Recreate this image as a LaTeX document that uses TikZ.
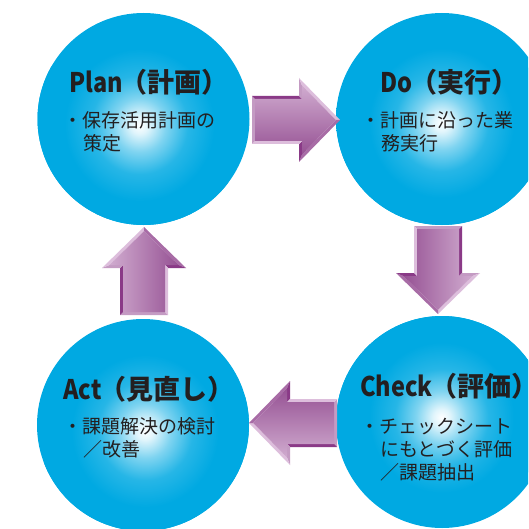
\documentclass[tikz,border=0pt]{standalone}
\usepackage{graphicx}
\usepackage{fontspec}
\setmainfont{Noto Sans CJK JP}
\definecolor{cblue}{RGB}{0,169,226}
\definecolor{tdark}{RGB}{35,31,32}
\definecolor{aflight}{RGB}{208,171,207}
\definecolor{afdark}{RGB}{150,82,148}
\definecolor{bvdark}{RGB}{138,58,135}
\definecolor{bvlight}{RGB}{221,190,220}
\definecolor{bvmidl}{RGB}{196,155,195}
\definecolor{bvmid}{RGB}{168,108,166}
\pgfdeclareradialshading{glow}{\pgfpointorigin}{color(0bp)=(white); color(2bp)=(white!88!cblue); color(6bp)=(cblue!50!white); color(11bp)=(cblue!85!white); color(17bp)=(cblue); color(50bp)=(cblue)}
\tikzset{
  phase/.style={circle, minimum size=212pt, inner sep=0pt, fill=cblue, draw=none},
  ttl/.style={anchor=base west, inner sep=0pt, text=tdark, text height=20pt, text depth=2pt, font=\fontsize{27}{30}\selectfont\bfseries},
  bodyline/.style={anchor=base west, inner sep=0pt, text=tdark, text height=15pt, text depth=2pt, font=\fontsize{19}{23}\selectfont},
}
\newcommand\lat[1]{\scalebox{0.87}[1]{#1}}
\newcommand\opar{\hspace{-2pt}（}
\newcommand\cpar{）\hspace{-16pt}}
% block arrow: #1,#2 = back centre, #3 = rotation, #4 = face shading
\newcommand\pdcaarrow[4]{%
  \begin{scope}[shift={(#1,#2)},rotate=#3]
    \fill[bvmidl] (0,-24) -- (0,24) -- (3,21) -- (3,-21) -- cycle;
    \fill[bvdark] (0,-24) -- (47,-24) -- (50,-21) -- (3,-21) -- cycle;
    \fill[bvmidl] (47,-24) -- (47,-42) -- (50,-34.6) -- (50,-21) -- cycle;
    \fill[bvlight] (47,-42) -- (88,0) -- (83.8,0) -- (50,-34.6) -- cycle;
    \fill[bvmid] (88,0) -- (47,42) -- (50,34.6) -- (83.8,0) -- cycle;
    \fill[bvdark] (47,42) -- (47,24) -- (50,21) -- (50,34.6) -- cycle;
    \fill[bvlight] (47,24) -- (0,24) -- (3,21) -- (50,21) -- cycle;
    \shade[#4] (3,-21) -- (50,-21) -- (50,-34.6) -- (83.8,0) -- (50,34.6) -- (50,21) -- (3,21) -- cycle;
  \end{scope}}
\begin{document}
\begin{tikzpicture}[x=1pt,y=-1pt]
\useasboundingbox (0,0) rectangle (528,529);
\clip (0,0) rectangle (528,529);
% circles
\node[phase, path picture={\shade[shading=glow] ([shift={(-8pt,-12pt)}]path picture bounding box.center) circle (106pt);}] (plan) at (143.5,119) {};
\node[phase, path picture={\shade[shading=glow] ([shift={(-1pt,-8pt)}]path picture bounding box.center) circle (106pt);}] (do) at (442,119) {};
\node[phase, path picture={\shade[shading=glow] ([shift={(4pt,-12pt)}]path picture bounding box.center) circle (106pt);}] (act) at (143,425) {};
\node[phase, path picture={\shade[shading=glow] ([shift={(-1pt,9pt)}]path picture bounding box.center) circle (106pt);}] (check) at (442,422) {};
% arrows
\pdcaarrow{252}{120}{0}{top color=aflight, bottom color=afdark}
\pdcaarrow{438}{226}{-90}{left color=afdark, right color=aflight}
\pdcaarrow{337}{423}{180}{top color=afdark, bottom color=aflight}
\pdcaarrow{144}{315}{90}{left color=aflight, right color=afdark}
% texts
\node[ttl] (plant) at (69,93) {\lat{Plan}\opar 計画\cpar};
\node[bodyline] (plan1) at (63.5,128) {・保存活用計画の};
\node[bodyline] (plan2) at (83,151) {策定};
\node[ttl] (dot) at (380,93) {\lat{Do}\opar 実行\cpar};
\node[bodyline] (do1) at (361.5,128) {・計画に沿った業};
\node[bodyline] (do2) at (381,151) {務実行};
\node[ttl] (actt) at (63,399) {\lat{Act}\opar 見直し\cpar};
\node[bodyline] (act1) at (63.5,433) {・課題解決の検討};
\node[bodyline] (act2) at (83,456) {／改善};
\node[ttl] (checkt) at (360,396) {\lat{Check}\opar 評価\cpar};
\node[bodyline] (check1) at (360.5,433) {・チェックシート};
\node[bodyline] (check2) at (380,456) {にもとづく評価};
\node[bodyline] (check3) at (380,479) {／課題抽出};
\end{tikzpicture}
\end{document}
